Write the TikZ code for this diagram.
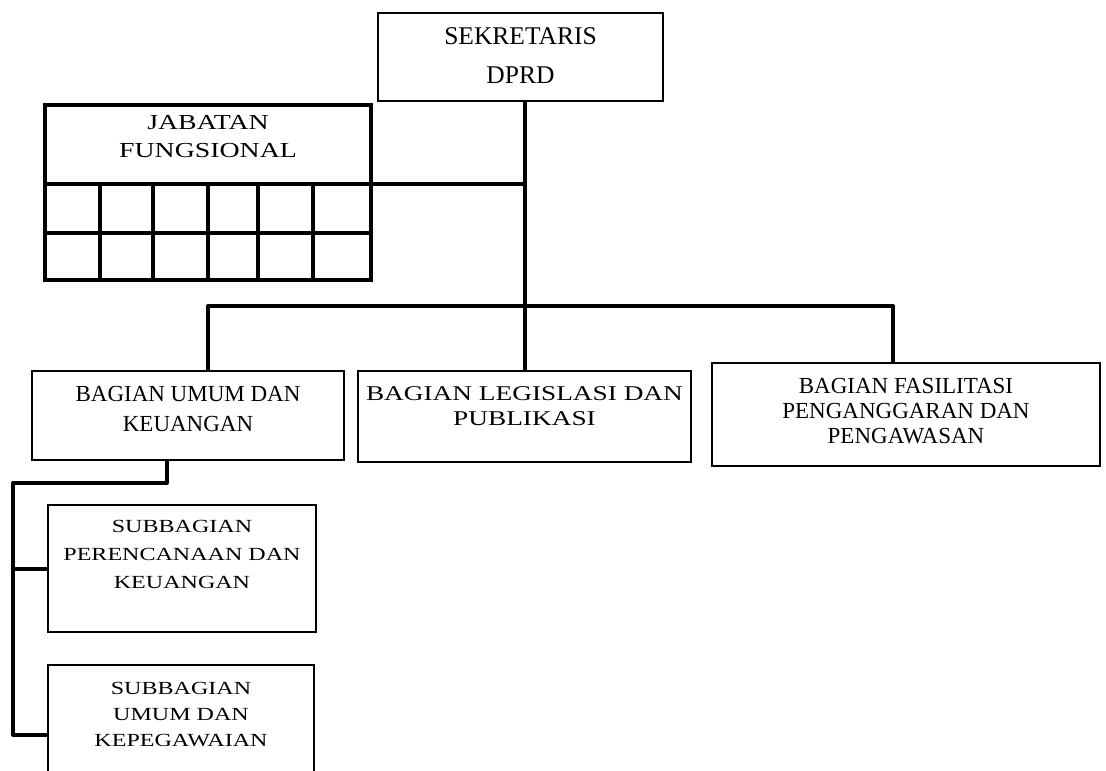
\documentclass[tikz,border=0pt]{standalone}
\usepackage{fontspec}
\setmainfont{Liberation Serif}
\newfontfamily\widefont[FakeStretch=1.3]{Liberation Serif}
\usetikzlibrary{positioning}

\tikzset{
	box/.style={draw, line width=1.4pt, outer sep=0pt, inner sep=0pt},
	txt/.style={inner sep=0pt, outer sep=0pt, align=center},
	link/.style={line width=4pt, line join=round},
}

\begin{document}
\begin{tikzpicture}[x=1pt,y=-1pt]
	\useasboundingbox (0,0) rectangle (1106,771);
	\clip (0,0) rectangle (1106,771);
	\node[box, line width=1.8pt, minimum width=285pt, minimum height=88pt] (sekr) at (520.5,57) {};
	\node[txt, font=\fontsize{25.5}{39}\selectfont, below=15pt of sekr.north] (sekrtxt) {SEKRETARIS\\DPRD};
	\node[box, line width=4.5pt, minimum width=326pt, minimum height=175pt] (jab) at (208,192.5) {};
	\node[txt, font=\widefont\fontsize{21.4}{28}\selectfont, below=10pt of jab.north] (jabtxt) {JABATAN\\FUNGSIONAL};
	\node[box, minimum width=312pt, minimum height=89pt] (umum) at (188,415.5) {};
	\node[txt, font=\fontsize{23}{30}\selectfont, below=15pt of umum.north] (umumtxt) {BAGIAN UMUM DAN\\KEUANGAN};
	\node[box, minimum width=333pt, minimum height=91pt] (legis) at (524.5,416.5) {};
	\node[txt, font=\widefont\fontsize{21}{25}\selectfont, below=16pt of legis.north] (legistxt) {BAGIAN LEGISLASI DAN\\PUBLIKASI};
	\node[box, minimum width=388pt, minimum height=103pt] (fasil) at (906,414.5) {};
	\node[txt, font=\fontsize{23}{25}\selectfont, below=15pt of fasil.north] (fasiltxt) {BAGIAN FASILITASI\\PENGANGGARAN DAN\\PENGAWASAN};
	\node[box, minimum width=268pt, minimum height=127pt] (sub1) at (182,568.5) {};
	\node[txt, font=\widefont\fontsize{18.5}{28}\selectfont, below=15pt of sub1.north] (sub1txt) {SUBBAGIAN\\PERENCANAAN DAN\\KEUANGAN};
	\node[box, minimum width=266pt, minimum height=140pt] (sub2) at (181,735) {};
	\node[txt, font=\widefont\fontsize{18.5}{26}\selectfont, below=17pt of sub2.north] (sub2txt) {SUBBAGIAN\\UMUM DAN\\KEPEGAWAIAN};
	\coordinate (bus) at (525,306);
	\coordinate (busL) at (208,306);
	\coordinate (busR) at (893,306);
	\coordinate (jabhead) at (371,184);
	\coordinate (umdrop) at (167,483);
	\coordinate (subbus) at (13,483);
	\draw[link, line width=4.5pt] (jab.west |- jabhead) -- (jabhead -| bus);
	\draw[link, line width=4.5pt] (jab.west |- 0,233) -- (jab.east |- 0,233);
	\foreach \x in {100,153,208,258,313}
		\draw[link, line width=4.5pt] (\x,0 |- jabhead) -- (\x,0 |- jab.south);
	\draw[link] (sekr.south -| bus) -- (bus) -- (legis.north -| bus);
	\draw[link] (umum.north -| busL) -- (busL) -- (busR) -- (fasil.north -| busR);
	\draw[link] (umum.south -| umdrop) -- (umdrop) -- (subbus) |- (sub2.west);
	\draw[link] (subbus |- sub1.west) -- (sub1.west);
\end{tikzpicture}
\end{document}
